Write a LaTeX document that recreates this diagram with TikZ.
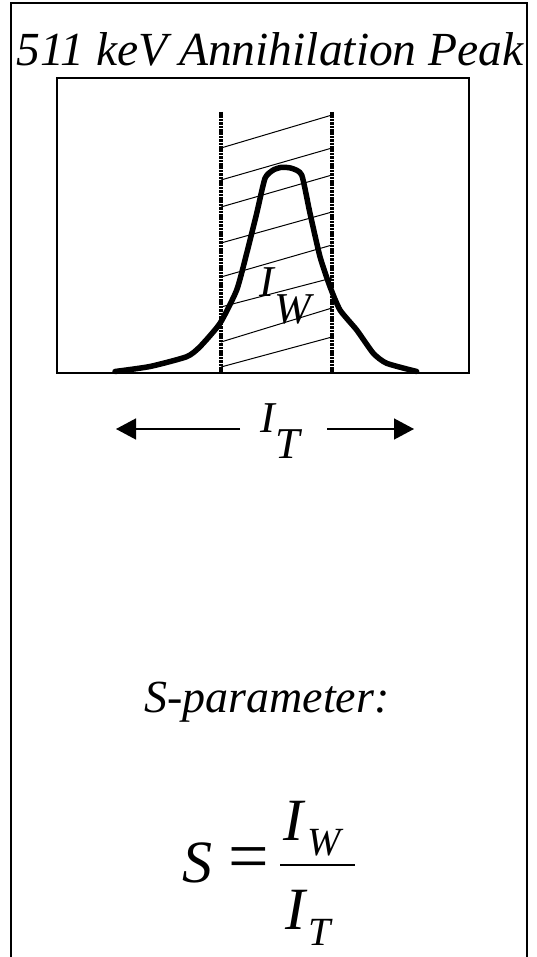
\documentclass[tikz,border=0pt]{standalone}
\usepackage{fontspec}
\setmainfont{Liberation Serif}
\usetikzlibrary{arrows.meta}
\tikzset{
  frameline/.style={line width=1.8pt},
  windowline/.style={line width=3.6pt, dash pattern=on 2.6pt off 0.8pt},
  hatchline/.style={line width=1pt},
  peakline/.style={line width=5.5pt, line join=round, line cap=round},
  itarrow/.style={line width=1.4pt, -{Triangle[length=20pt,width=21pt]}},
  lbl/.style={inner sep=0pt, anchor=base west, font=\fontsize{44}{44}\selectfont\itshape},
  biglbl/.style={inner sep=0pt, anchor=base west, font=\fontsize{60}{60}\selectfont\itshape},
  sublbl/.style={inner sep=0pt, anchor=base west, font=\fontsize{40}{40}\selectfont\itshape},
}
\begin{document}
\begin{tikzpicture}[x=1pt,y=-1pt]
\useasboundingbox (0,0) rectangle (537,957);
\fill[white] (0,0) rectangle (537,957);
% outer frame (open at bottom)
\draw[frameline] (11,958) -- (11,3) -- (527,3) -- (527,958);
% title
\node[inner sep=0pt, anchor=base, font=\fontsize{47.5}{47.5}\selectfont\itshape] (title) at (270,66) {511 keV Annihilation Peak};
% inner plot box
\draw[frameline] (57,78) rectangle (469,373);
% window lines
\coordinate (wlt) at (221,112); \coordinate (wlb) at (221,372);
\coordinate (wrt) at (332,112); \coordinate (wrb) at (332,372);
\draw[windowline] (wlt) -- (wlb);
\draw[windowline] (wrt) -- (wrb);
% hatching
\foreach \a/\b in {148/115, 180/148, 207/175, 243/212, 277/245, 307/278, 342/308, 367/337}{
  \draw[hatchline] (221,\a) -- (332,\b);
}
% peak
\draw[peakline] plot[smooth, tension=0.35] coordinates {
 (115,371.5) (150,366.5) (186.7,356.7) (200,346.7) (220,323.3) (236.7,290)
 (246.7,253.3) (256.7,213.3) (265,178.3) (273.3,170) (281.7,167.3) (291.7,168.3)
 (301.7,175) (310,213.3) (320,256.7) (330,286.7) (340,310) (356.7,330)
 (373.3,353.3) (386.7,363.3) (416.7,371.5)};
% I_W label
\node[lbl] (iw) at (259,296) {I};
\node[lbl] (iwsub) at (274,323) {W};
% I_T arrows and label
\node[lbl] (it) at (260,432) {I};
\node[lbl] (itsub) at (275,458) {T};
\coordinate (al0) at (240,429); \coordinate (al1) at (116,429);
\coordinate (ar0) at (327,429); \coordinate (ar1) at (414,429);
\draw[itarrow] (al0) -- (al1);
\draw[itarrow] (ar0) -- (ar1);
% S-parameter
\node[inner sep=0pt, anchor=base west, font=\fontsize{46}{46}\selectfont\itshape] (spar) at (144,712) {S-parameter:};
% formula
\node[biglbl] (S) at (182,882) {S};
\node[inner sep=0pt, font=\fontsize{72}{72}\selectfont] (eq) at (249,864) {=};
\node[biglbl] (numI) at (283,840) {I};
\node[sublbl] (numW) at (307,855) {W};
\node[biglbl] (denI) at (285,929) {I};
\node[sublbl] (denT) at (308,945) {T};
\coordinate (fb0) at (280,865); \coordinate (fb1) at (355,865);
\draw[line width=1.8pt] (fb0) -- (fb1);
\end{tikzpicture}
\end{document}
